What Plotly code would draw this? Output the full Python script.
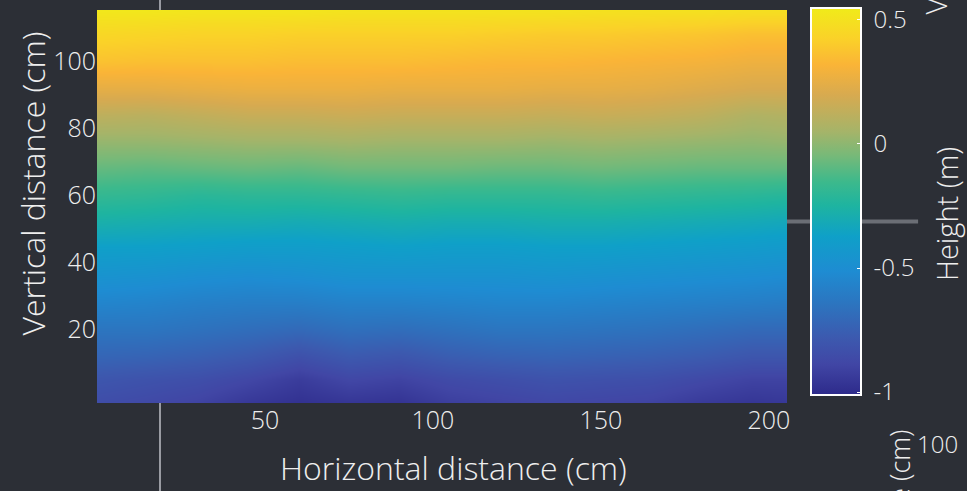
import plotly.graph_objects as go

# ---- data ----
x_cm = [0, 15, 30, 45, 60, 75, 90, 105, 120, 135, 150, 165, 180, 195, 205.4]
y_cm = [-2.2, 5, 12, 20, 28, 36, 44, 52, 60, 68, 76, 84, 92, 100, 108, 115.3]
height_m = [
    [-0.85, -0.87, -0.90, -0.95, -0.98, -0.96, -0.97, -0.92, -0.90, -0.88, -0.89, -0.90, -0.94, -0.96, -0.95],
    [-0.80, -0.82, -0.84, -0.88, -0.93, -0.88, -0.90, -0.86, -0.84, -0.82, -0.83, -0.84, -0.87, -0.90, -0.90],
    [-0.72, -0.73, -0.75, -0.78, -0.83, -0.78, -0.80, -0.76, -0.74, -0.73, -0.74, -0.75, -0.77, -0.80, -0.80],
    [-0.64, -0.64, -0.66, -0.68, -0.70, -0.67, -0.68, -0.66, -0.64, -0.64, -0.65, -0.66, -0.68, -0.70, -0.70],
    [-0.55, -0.56, -0.58, -0.59, -0.59, -0.57, -0.57, -0.56, -0.55, -0.55, -0.56, -0.57, -0.58, -0.59, -0.60],
    [-0.46, -0.47, -0.49, -0.50, -0.49, -0.47, -0.47, -0.47, -0.47, -0.46, -0.47, -0.48, -0.49, -0.50, -0.51],
    [-0.38, -0.38, -0.39, -0.40, -0.40, -0.39, -0.38, -0.39, -0.39, -0.38, -0.38, -0.39, -0.40, -0.41, -0.42],
    [-0.28, -0.29, -0.30, -0.30, -0.31, -0.30, -0.29, -0.30, -0.30, -0.29, -0.29, -0.30, -0.31, -0.32, -0.33],
    [-0.18, -0.19, -0.21, -0.20, -0.20, -0.19, -0.18, -0.19, -0.19, -0.19, -0.18, -0.19, -0.20, -0.21, -0.22],
    [-0.08, -0.09, -0.08, -0.07, -0.08, -0.06, -0.06, -0.06, -0.07, -0.07, -0.06, -0.07, -0.08, -0.08, -0.08],
    [0.02, 0.02, 0.03, 0.04, 0.04, 0.05, 0.04, 0.04, 0.04, 0.03, 0.04, 0.03, 0.02, 0.01, 0.02],
    [0.12, 0.11, 0.13, 0.15, 0.15, 0.16, 0.15, 0.15, 0.15, 0.14, 0.15, 0.14, 0.12, 0.08, 0.09],
    [0.25, 0.25, 0.26, 0.27, 0.27, 0.27, 0.26, 0.26, 0.26, 0.25, 0.25, 0.24, 0.22, 0.20, 0.20],
    [0.37, 0.36, 0.36, 0.36, 0.35, 0.35, 0.35, 0.34, 0.33, 0.33, 0.32, 0.31, 0.30, 0.28, 0.28],
    [0.45, 0.44, 0.43, 0.43, 0.42, 0.42, 0.42, 0.42, 0.41, 0.40, 0.40, 0.39, 0.38, 0.36, 0.36],
    [0.53, 0.53, 0.52, 0.52, 0.52, 0.51, 0.51, 0.51, 0.51, 0.51, 0.50, 0.50, 0.50, 0.49, 0.49],
]
cbar_tickvals = [0.5, 0, -0.5, -1]
cbar_ticktext = [" 0.5", " 0", " -0.5", " -1"]
x_tickvals = [50, 100, 150, 200]
y_tickvals = [20, 40, 60, 80, 100]

# ---- styling ----
BG = "#2c2f36"
FG = "#eeeeee"
FONT = "Open Sans"
W = 300

colorscale = [
    [0.0, "#2d2a8a"], [0.08, "#4146a5"], [0.15, "#3c5aaf"], [0.23, "#2d73be"],
    [0.32, "#1e8cd2"], [0.41, "#0fa0c8"], [0.49, "#1eb4a0"], [0.55, "#3cb98c"],
    [0.62, "#78b978"], [0.68, "#a5b469"], [0.775, "#d7aa50"], [0.853, "#fab437"],
    [0.922, "#fad228"], [1.0, "#f0eb19"],
]

fig = go.Figure(
    go.Heatmap(
        x=x_cm, y=y_cm, z=height_m,
        zsmooth="best",
        colorscale=colorscale,
        zmin=-1.012, zmax=0.548,
        colorbar=dict(
            tickvals=cbar_tickvals, ticktext=cbar_ticktext,
            ticks="inside", ticklen=5, tickcolor="#ffffff", tickwidth=1,
            tickfont=dict(size=24, color=FG, family=FONT, weight=W),
            outlinecolor="#ffffff", outlinewidth=2,
            thickness=50, len=0.985, lenmode="fraction",
            x=1.0348, xanchor="left", y=1.005, yanchor="top",
            xpad=0, ypad=0,
        ),
    )
)

fig.update_layout(
    width=967, height=491,
    margin=dict(l=97, r=180, t=8, b=88),
    paper_bgcolor=BG, plot_bgcolor=BG,
    font=dict(family=FONT, color=FG, weight=W),
    xaxis=dict(
        range=[0, 205.4], tickvals=x_tickvals, showgrid=False, zeroline=False,
        showline=False, ticks="", tickfont=dict(size=25, color=FG, weight=W),
        automargin=False,
    ),
    yaxis=dict(
        range=[-2.2, 115.3], tickvals=y_tickvals, showgrid=False, zeroline=False,
        showline=False, ticks="", tickfont=dict(size=25, color=FG, weight=W),
        automargin=False,
    ),
    shapes=[
        dict(type="line", xref="paper", yref="paper", x0=0.0913, x1=0.0913, y0=-0.25, y1=1.05,
             line=dict(color="#9a9ca3", width=2), layer="below"),
        dict(type="line", xref="paper", yref="paper", x0=1.0, x1=1.19, y0=0.462, y1=0.462,
             line=dict(color="#6b6e75", width=4), layer="below"),
    ],
    annotations=[
        dict(text="Horizontal distance (cm)", xref="paper", yref="paper",
             x=0.516, y=-0.165, xanchor="center", yanchor="middle", showarrow=False,
             font=dict(size=32, color=FG, family=FONT, weight=W)),
        dict(text="Vertical distance (cm)", textangle=-90, xref="paper", yref="paper",
             x=-0.094, y=0.559, xanchor="center", yanchor="middle", showarrow=False,
             font=dict(size=32, color=FG, family=FONT, weight=W)),
        dict(text="Height (m)", textangle=-90, xref="paper", yref="paper",
             x=1.2319, y=0.481, xanchor="center", yanchor="middle", showarrow=False,
             font=dict(size=29, color=FG, family=FONT, weight=W)),
        dict(text="Vertical distance (cm)", textangle=-90, xref="paper", yref="paper",
             x=1.216, y=0.982, xanchor="center", yanchor="bottom", showarrow=False,
             font=dict(size=29, color=FG, family=FONT, weight=W)),
        dict(text="Vertical distance (cm)", textangle=-90, xref="paper", yref="paper",
             x=1.164, y=-0.063, xanchor="center", yanchor="top", showarrow=False,
             font=dict(size=27, color=FG, family=FONT, weight=W)),
        dict(text="100", xref="paper", yref="paper",
             x=1.186, y=-0.104, xanchor="left", yanchor="middle", showarrow=False,
             font=dict(size=24, color=FG, family=FONT, weight=W)),
    ],
)

fig.write_html("out.html", config={"displayModeBar": False},
               post_script="document.body.style.margin='0px';")
